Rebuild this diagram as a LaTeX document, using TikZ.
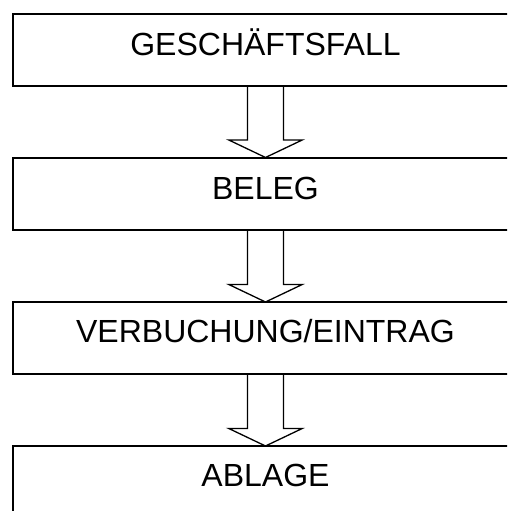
\documentclass[tikz,border=0pt]{standalone}
\usepackage{fontspec}
\setmainfont{Liberation Sans}
\usetikzlibrary{calc}
\begin{document}
\begin{tikzpicture}[x=1pt,y=-1pt,
  box/.style={draw,line width=2pt,minimum width=506pt,minimum height=72pt,inner sep=0pt,outer sep=0pt},
  lbl/.style={anchor=base,inner sep=0pt,font=\fontsize{32}{38}\selectfont},
  blockarrow/.style={draw,line width=1.3pt,line join=miter}]
\useasboundingbox (0,0) rectangle (507,511);
\clip (0,0) rectangle (507,511);
\node[box] (b1) at (265.5,50) {};
\node[box] (b2) at (265.5,193.5) {};
\node[box] (b3) at (265.5,338) {};
\node[box] (b4) at (265.5,482) {};
\node[lbl] (t1) at (265.5,56) {GESCHÄFTSFALL};
\node[lbl] (t2) at (265.5,199.3) {BELEG};
\node[lbl] (t3) at (265.5,342) {VERBUCHUNG/EINTRAG};
\node[lbl] (t4) at (265.5,486) {ABLAGE};
\draw[blockarrow] ($(b1.south)+(-18,0)$) -- ($(b2.north)+(-18,-17.5)$) -- ($(b2.north)+(-36.7,-17.5)$) -- (b2.north) -- ($(b2.north)+(36.7,-17.5)$) -- ($(b2.north)+(18,-17.5)$) -- ($(b1.south)+(18,0)$);
\draw[blockarrow] ($(b2.south)+(-18,0)$) -- ($(b3.north)+(-18,-17.5)$) -- ($(b3.north)+(-36.7,-17.5)$) -- (b3.north) -- ($(b3.north)+(36.7,-17.5)$) -- ($(b3.north)+(18,-17.5)$) -- ($(b2.south)+(18,0)$);
\draw[blockarrow] ($(b3.south)+(-18,0)$) -- ($(b4.north)+(-18,-17.5)$) -- ($(b4.north)+(-36.7,-17.5)$) -- (b4.north) -- ($(b4.north)+(36.7,-17.5)$) -- ($(b4.north)+(18,-17.5)$) -- ($(b3.south)+(18,0)$);
\end{tikzpicture}
\end{document}
